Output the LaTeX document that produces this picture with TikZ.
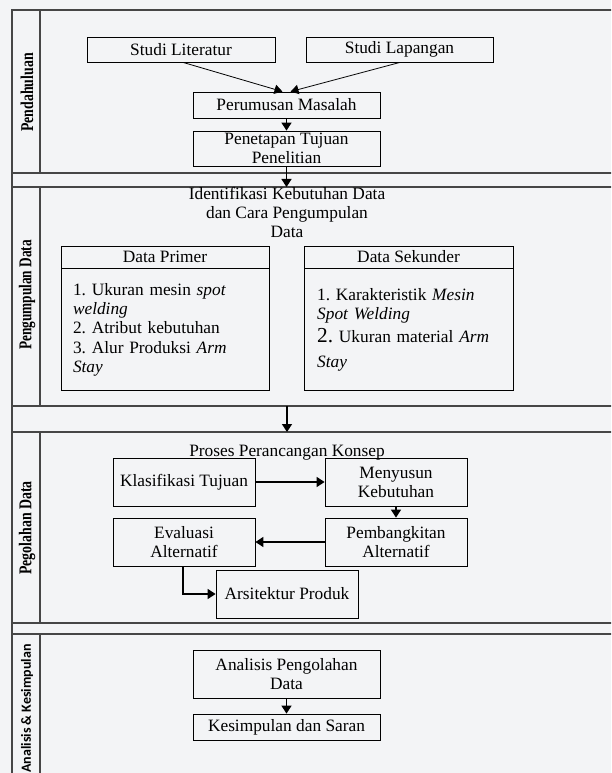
\documentclass[tikz,border=0pt]{standalone}
\usepackage{fontspec}
\usepackage{graphicx}
\setmainfont{Liberation Serif}
\newfontfamily\labsans{Carlito}
\usetikzlibrary{arrows.meta,calc}
\definecolor{bgc}{RGB}{243,244,246}
\definecolor{lanec}{RGB}{70,70,70}
\newcommand\mainsz{\fontsize{13}{14.3}\selectfont\frenchspacing}
\begin{document}
\begin{tikzpicture}[x=0.75pt,y=-0.75pt,
  box/.style={draw=black, line width=0.6pt, inner sep=0pt, align=center, font=\mainsz},
  plain/.style={inner sep=0pt, align=center, font=\mainsz},
  lane/.style={draw=lanec, line width=0.8pt},
  lanelab/.style={rotate=90, inner sep=0pt, font=\fontsize{13.5}{14}\selectfont\bfseries},
  arr/.style={-{Triangle[width=7.5pt,length=6pt]}, line width=1.1pt},
  thinarr/.style={-{Triangle[width=7pt,length=6pt]}, line width=0.6pt}]
\path[use as bounding box] (0,0) rectangle (611,773);
\fill[bgc] (0,0) rectangle (611,773);
\clip (0,0) rectangle (611,773);

% lanes
\draw[lane] (12,10) rectangle (620,173);
\draw[lane] (12,187) rectangle (620,406);
\draw[lane] (12,432) rectangle (620,623);
\draw[lane] (12,634) rectangle (620,800);
\draw[lane] (12,10) -- (12,800);
\draw[lane] (40,10) -- (40,173);
\draw[lane] (40,187) -- (40,406);
\draw[lane] (40,432) -- (40,623);
\draw[lane] (40,634) -- (40,800);

% lane labels
\node[lanelab] (lab1) at (27,92.5) {\scalebox{0.77}[1]{Pendahuluan}};
\node[lanelab] (lab2) at (27,295) {\scalebox{0.74}[1]{Pengumpulan Data}};
\node[lanelab] (lab3) at (27,528) {\scalebox{0.77}[1]{Pegolahan Data}};
\node[rotate=90, inner sep=0pt, font=\labsans\fontsize{10.5}{12}\selectfont\bfseries] (lab4) at (27,708.5) {Analisis \& Kesimpulan};

% lane 1
\node[box, minimum width=141pt, minimum height=18.75pt] (lit) at (181,49.5) {Studi Literatur};
\node[box, minimum width=140.25pt, minimum height=18.75pt] (lap) at (399.5,49.5) {Studi Lapangan};
\node[box, minimum width=140.25pt, minimum height=19.5pt] (perum) at (286.5,105) {Perumusan Masalah};
\node[box, minimum width=140.25pt, minimum height=26.25pt] (penet) at (286.5,148.5) {Penetapan Tujuan\\Penelitian};
\draw[thinarr] ($(lit.south)+(2,0)$) -- ($(perum.north)+(-4,0)$);
\draw[thinarr] ($(lap.south)+(0.5,0)$) -- ($(perum.north)+(4,0)$);
\draw[arr] (perum) -- (penet);

% lane 2
\coordinate (l2t) at (286.5,187);
\draw[arr] (penet) -- (l2t);
\node[plain, anchor=north] (ident) at (287,187) {Identifikasi Kebutuhan Data\\dan Cara Pengumpulan\\Data};
\node[box, minimum width=156pt, minimum height=16.5pt] (dph) at (165,257) {Data Primer};
\node[box, anchor=north, minimum width=156pt, minimum height=91.5pt, text width=138pt, align=left, inner xsep=9pt] (dpb) at (dph.south) {1. Ukuran mesin \textit{spot}\\\textit{welding}\\2. Atribut kebutuhan\\3. Alur Produksi \textit{Arm}\\\textit{Stay}};
\node[box, minimum width=156.75pt, minimum height=16.5pt] (dsh) at (408.5,257) {Data Sekunder};
\node[box, anchor=north, minimum width=156.75pt, minimum height=91.5pt, text width=137pt, align=left, inner xsep=9.9pt] (dsb) at (dsh.south) {1. Karakteristik \textit{Mesin}\\\textit{Spot Welding}\\[2.5pt]{\fontsize{16}{17}\selectfont 2.} Ukuran material \textit{Arm}\\[4.5pt]\textit{Stay}};

% lane 3
\coordinate (l2b) at (287,406);
\coordinate (l3t) at (287,432);
\draw[arr] (l2b) -- (l3t);
\node[plain] (proses) at (287,453) {Proses Perancangan Konsep};
\node[box, minimum width=106.5pt, minimum height=36pt] (klas) at (184,482) {Klasifikasi Tujuan};
\node[box, minimum width=106.5pt, minimum height=36pt] (meny) at (396,482) {Menyusun\\Kebutuhan};
\node[box, minimum width=106.5pt, minimum height=36pt] (eval) at (184,542) {Evaluasi\\Alternatif};
\node[box, minimum width=106.5pt, minimum height=36pt] (pemb) at (396,542) {Pembangkitan\\Alternatif};
\node[box, minimum width=106.5pt, minimum height=36pt] (arsi) at (287,594) {Arsitektur Produk};
\draw[arr] (klas) -- (meny);
\draw[arr] (meny) -- (pemb);
\draw[arr] (pemb) -- (eval);
\draw[arr] ($(eval.south)+(-1,0)$) |- (arsi.west);

% lane 4
\node[box, minimum width=140.25pt, minimum height=36pt] (anal) at (286.5,674) {Analisis Pengolahan\\Data};
\node[box, minimum width=140.25pt, minimum height=19.5pt] (kesi) at (286.5,727) {Kesimpulan dan Saran};
\draw[arr] (anal) -- (kesi);
\end{tikzpicture}
\end{document}
